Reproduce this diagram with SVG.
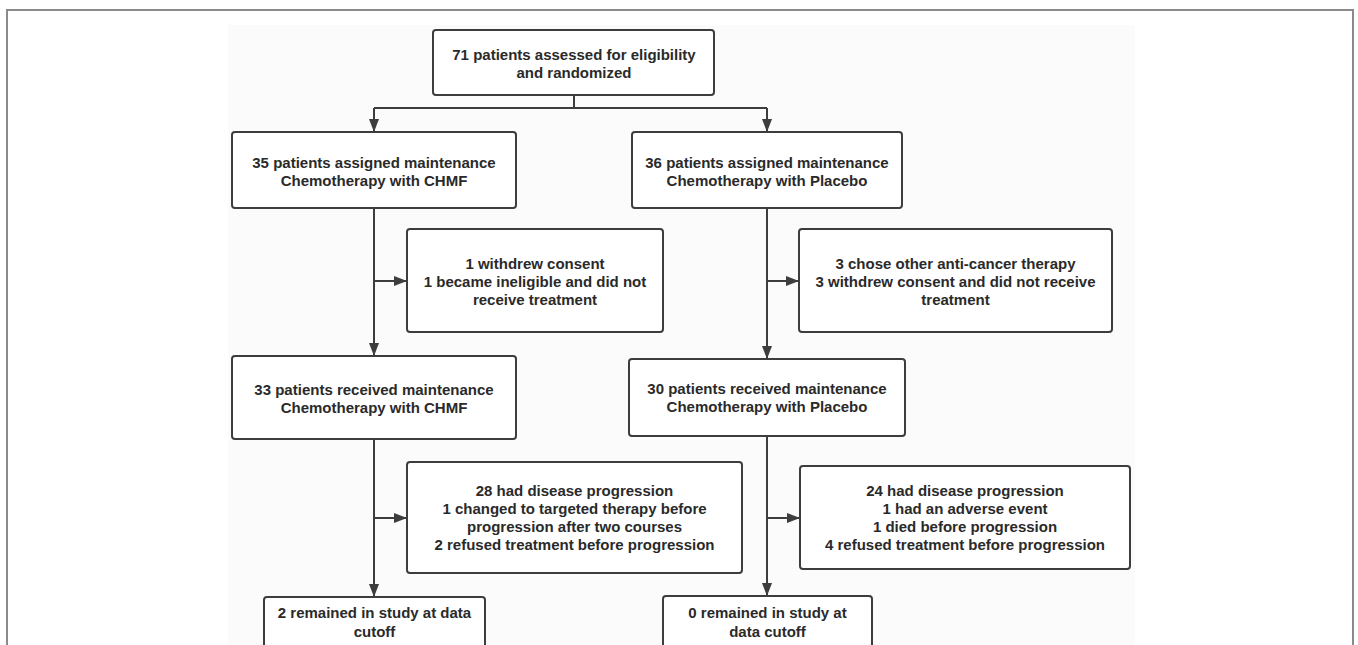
<svg xmlns="http://www.w3.org/2000/svg" width="1358" height="645" viewBox="0 0 1358 645">
  <style>
    .box { fill: #ffffff; stroke: #3d3d3d; stroke-width: 2; }
    .lbl { font-family: "Liberation Sans", Arial, sans-serif; font-weight: bold; font-size: 15px; fill: #2a2a2a; text-anchor: middle; }
    .conn { fill: none; stroke: #3d3d3d; stroke-width: 2; }
  </style>
  <defs>
    <marker id="arrow" markerUnits="userSpaceOnUse" markerWidth="13" markerHeight="10" refX="13" refY="5" orient="auto">
      <path d="M0,0 L13,5 L0,10 z" fill="#3d3d3d"/>
    </marker>
  </defs>
  <rect x="0" y="0" width="1358" height="645" fill="#ffffff"/>
  <rect x="7" y="10" width="1346" height="660" fill="#ffffff" stroke="#8a8a8a" stroke-width="2"/>
  <rect x="228" y="25" width="907" height="640" fill="#fbfbfb"/>

  <g id="connectors">
    <path class="conn" d="M574,95 V108 M374,108 H767"/>
    <path class="conn" d="M374,108 V132" marker-end="url(#arrow)"/>
    <path class="conn" d="M767,108 V132" marker-end="url(#arrow)"/>
    <path class="conn" d="M374,208 V356" marker-end="url(#arrow)"/>
    <path class="conn" d="M374,281 H407" marker-end="url(#arrow)"/>
    <path class="conn" d="M767,208 V359" marker-end="url(#arrow)"/>
    <path class="conn" d="M767,281 H799" marker-end="url(#arrow)"/>
    <path class="conn" d="M374,439 V597" marker-end="url(#arrow)"/>
    <path class="conn" d="M374,518 H407" marker-end="url(#arrow)"/>
    <path class="conn" d="M767,436 V596" marker-end="url(#arrow)"/>
    <path class="conn" d="M767,518 H800" marker-end="url(#arrow)"/>
  </g>

  <g id="randomized">
    <rect class="box" x="433" y="30" width="281" height="65" rx="3"/>
    <text class="lbl" x="574" y="60">71 patients assessed for eligibility</text>
    <text class="lbl" x="574" y="78">and randomized</text>
  </g>

  <g id="assigned-chmf">
    <rect class="box" x="232" y="132" width="284" height="76" rx="3"/>
    <text class="lbl" x="374" y="168">35 patients assigned maintenance</text>
    <text class="lbl" x="374" y="186">Chemotherapy with CHMF</text>
  </g>

  <g id="assigned-placebo">
    <rect class="box" x="632" y="132" width="270" height="76" rx="3"/>
    <text class="lbl" x="767" y="168">36 patients assigned maintenance</text>
    <text class="lbl" x="767" y="186">Chemotherapy with Placebo</text>
  </g>

  <g id="excluded-chmf">
    <rect class="box" x="407" y="229" width="256" height="103" rx="3"/>
    <text class="lbl" x="535" y="269">1 withdrew consent</text>
    <text class="lbl" x="535" y="287">1 became ineligible and did not</text>
    <text class="lbl" x="535" y="305">receive treatment</text>
  </g>

  <g id="excluded-placebo">
    <rect class="box" x="799" y="229" width="313" height="103" rx="3"/>
    <text class="lbl" x="955.5" y="269">3 chose other anti-cancer therapy</text>
    <text class="lbl" x="955.5" y="287">3 withdrew consent and did not receive</text>
    <text class="lbl" x="955.5" y="305">treatment</text>
  </g>

  <g id="received-chmf">
    <rect class="box" x="232" y="356" width="284" height="83" rx="3"/>
    <text class="lbl" x="374" y="395">33 patients received maintenance</text>
    <text class="lbl" x="374" y="413">Chemotherapy with CHMF</text>
  </g>

  <g id="received-placebo">
    <rect class="box" x="629" y="359" width="276" height="77" rx="3"/>
    <text class="lbl" x="767" y="394">30 patients received maintenance</text>
    <text class="lbl" x="767" y="412">Chemotherapy with Placebo</text>
  </g>

  <g id="discontinued-chmf">
    <rect class="box" x="407" y="462" width="335" height="111" rx="3"/>
    <text class="lbl" x="574.5" y="496">28 had disease progression</text>
    <text class="lbl" x="574.5" y="514">1 changed to targeted therapy before</text>
    <text class="lbl" x="574.5" y="532">progression after two courses</text>
    <text class="lbl" x="574.5" y="550">2 refused treatment before progression</text>
  </g>

  <g id="discontinued-placebo">
    <rect class="box" x="800" y="466" width="330" height="103" rx="3"/>
    <text class="lbl" x="965" y="496">24 had disease progression</text>
    <text class="lbl" x="965" y="514">1 had an adverse event</text>
    <text class="lbl" x="965" y="532">1 died before progression</text>
    <text class="lbl" x="965" y="550">4 refused treatment before progression</text>
  </g>

  <g id="remained-chmf">
    <rect class="box" x="264" y="597" width="221" height="70" rx="3"/>
    <text class="lbl" x="374.5" y="618">2 remained in study at data</text>
    <text class="lbl" x="374.5" y="637">cutoff</text>
  </g>

  <g id="remained-placebo">
    <rect class="box" x="663" y="596" width="209" height="70" rx="3"/>
    <text class="lbl" x="767.5" y="618">0 remained in study at</text>
    <text class="lbl" x="767.5" y="637">data cutoff</text>
  </g>
</svg>
